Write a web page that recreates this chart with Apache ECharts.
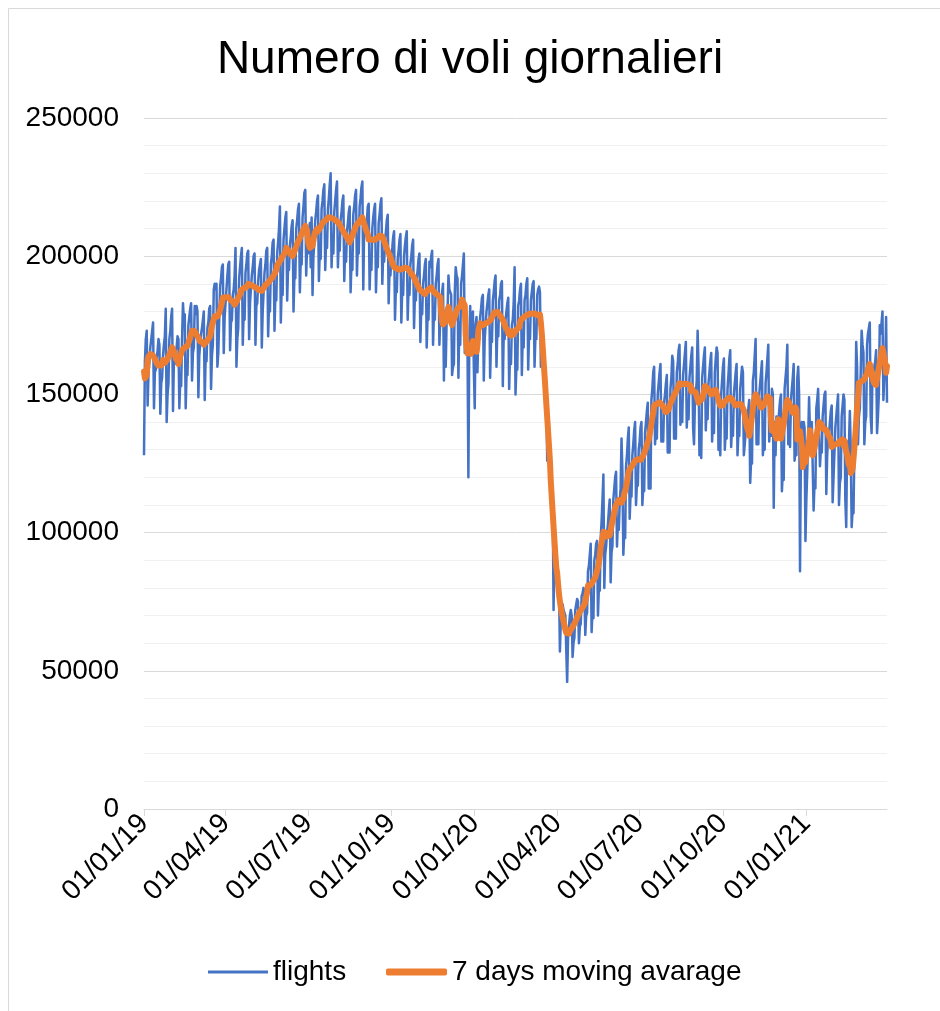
<!DOCTYPE html>
<html>
<head>
<meta charset="utf-8">
<title>Numero di voli giornalieri</title>
<script src="https://cdn.jsdelivr.net/npm/echarts@6.0.0/dist/echarts.min.js"></script>
<style>
  html, body { margin: 0; padding: 0; background: #ffffff; }
  #chart { width: 940px; height: 1011px; }
</style>
</head>
<body>
<div id="chart"></div>
<script>
// voli al giorno in migliaia, una riga per settimana (mar -> lun), dal 01/01/19
const flightsByWeek = [
  [128,162,170,173,146,158,162], [167,170,173,176,145,158,159], [163,166,170,168,143,154,156],
  [164,168,171,181,140,150,154], [170,173,178,181,144,162,161], [166,167,171,170,145,155,153],
  [170,183,177,179,145,158,157], [175,178,181,183,155,165,167], [182,179,182,180,149,164,168],
  [172,174,177,180,148,163,162], [174,176,181,182,152,164,168], [188,190,188,190,160,165,165],
  [189,192,196,197,165,178,178], [188,193,197,198,166,176,177], [186,188,193,203,160,170,174],
  [192,196,200,203,168,180,177], [194,197,201,202,170,183,183], [193,196,200,201,168,182,183],
  [191,195,197,199,167,180,180], [194,197,202,203,171,183,180], [197,200,205,206,173,186,184],
  [201,205,210,218,176,190,186], [206,210,214,216,184,196,195], [204,207,211,213,180,193,192],
  [210,213,217,219,187,199,197], [214,218,223,224,193,204,201], [208,212,196,214,186,200,205],
  [213,216,220,222,191,202,199], [217,220,224,226,195,206,203], [217,221,226,230,196,207,201],
  [216,220,224,227,196,206,202], [213,216,220,222,191,203,198], [209,212,216,218,187,198,195],
  [215,218,222,224,193,204,201], [218,221,225,227,188,211,208], [210,213,218,219,188,199,195],
  [210,214,217,219,187,199,196], [212,215,219,221,190,201,198], [206,209,213,215,183,195,193],
  [200,203,207,209,177,189,187], [199,202,206,208,176,188,186], [200,204,207,209,177,189,186],
  [197,200,204,206,174,186,184], [192,195,199,201,169,181,179], [190,193,197,199,167,179,177],
  [198,196,200,202,168,180,177], [190,193,197,199,168,178,177], [187,190,155,180,160,177,180],
  [193,188,187,186,157,160,161], [187,196,193,192,156,176,168], [190,193,197,201,165,178,171],
  [170,120,168,182,165,178,180], [160,145,175,178,158,172,170], [178,181,185,186,155,170,170],
  [180,183,186,188,156,170,169], [184,187,191,193,160,174,171], [184,186,190,191,153,172,170],
  [177,180,183,185,152,166,161], [175,177,183,196,150,160,159], [182,184,188,190,157,171,167],
  [184,186,190,192,159,172,170], [184,187,190,191,160,171,170], [186,188,189,187,160,170,172],
  [166,160,156,150,126,134,135], [130,124,119,114,72,96,98],    [92,88,84,82,57,68,73],
  [74,72,72,70,58,46,62],        [66,70,72,70,55,60,62],        [72,74,76,75,60,66,67],
  [77,78,80,79,63,70,71],        [86,88,92,96,64,72,69],        [90,92,96,97,70,80,79],
  [98,104,112,121,80,92,95],     [100,103,108,112,82,93,95],    [112,116,120,122,95,104,101],
  [111,116,134,122,92,100,98],   [124,128,134,138,105,114,113], [128,132,137,140,110,118,117],
  [130,133,138,140,110,116,115], [136,140,144,147,116,125,116], [148,152,158,160,132,138,134],
  [150,154,158,161,133,140,133], [147,150,154,157,129,135,129], [152,156,164,162,134,141,134],
  [158,161,166,168,139,146,140], [157,161,165,169,138,147,141], [156,160,164,167,138,132,147],
  [150,155,173,160,128,136,127], [156,160,164,167,137,146,141], [154,158,162,165,133,142,136],
  [158,163,167,165,130,133,128], [150,155,160,163,130,137,134], [152,157,163,166,131,139,135],
  [150,154,158,161,128,136,135], [152,156,160,158,128,132,136], [140,143,145,148,118,126,125],
  [155,158,164,170,132,139,132], [150,154,158,162,128,133,130], [154,158,163,168,133,139,135],
  [152,150,109,140,128,142,135], [140,144,148,150,115,122,119], [152,156,160,168,132,137,131],
  [148,152,156,161,126,130,128], [156,160,150,86,130,140,135],  [140,138,97,112,122,134,149],
  [136,138,140,140,108,118,116], [145,148,152,152,124,130,129], [142,146,150,151,114,128,135],
  [136,140,144,146,111,120,120], [138,142,146,150,110,118,120], [142,146,150,148,112,102,133],
  [128,132,144,130,102,108,107], [130,140,169,160,132,142,145], [158,173,168,165,132,140,142],
  [168,172,174,176,142,136,159], [158,160,162,166,136,142,150], [175,172,176,180,148,156,160],
  [178,147]
];

// etichette dell'asse x (una ogni tre mesi)
const tickLabels = ['01/01/19', '01/04/19', '01/07/19', '01/10/19', '01/01/20',
                    '01/04/20', '01/07/20', '01/10/20', '01/01/21'];

// asse y
const yMin = 0;
const yMax = 250000;
const yStep = 50000;

const flights = flightsByWeek.flat().map(v => v * 1000);

// una categoria per giorno, formato gg/mm/aa
const pad = n => String(n).padStart(2, '0');
const days = flights.map((_, i) => {
  const d = new Date(Date.UTC(2019, 0, 1 + i));
  return pad(d.getUTCDate()) + '/' + pad(d.getUTCMonth() + 1) + '/' + String(d.getUTCFullYear()).slice(2);
});

// media mobile su 7 giorni (centrata, finestra ridotta ai bordi)
const movingAvg = flights.map((_, i) => {
  const win = flights.slice(Math.max(0, i - 3), i + 4);
  return Math.round(win.reduce((a, b) => a + b, 0) / win.length);
});

const font = 'Liberation Sans, Arial, sans-serif';
const showTick = (idx, value) => tickLabels.includes(value);

const chart = echarts.init(document.getElementById('chart'), null, { renderer: 'canvas' });

chart.setOption({
  animation: false,
  backgroundColor: '#ffffff',
  //cornice grigia (solo sopra e a sinistra, il resto e' tagliato)
  graphic: [
    { type: 'line', shape: { x1: 8.5, y1: 8.5, x2: 940, y2: 8.5 }, style: { stroke: '#d9d9d9', lineWidth: 1 } },
    { type: 'line', shape: { x1: 8.5, y1: 8.5, x2: 8.5, y2: 1011 }, style: { stroke: '#d9d9d9', lineWidth: 1 } }
  ],
  title: {
    text: 'Numero di voli giornalieri',
    left: 'center',
    top: 32,
    textStyle: { fontFamily: font, fontSize: 46, fontWeight: 'normal', color: '#000000' }
  },
  legend: [
    {
      data: ['flights'],
      left: 208,
      top: 958,
      padding: 0,
      icon: 'rect',
      itemWidth: 60,
      itemHeight: 3,
      selectedMode: false,
      textStyle: { fontFamily: font, fontSize: 28, color: '#000000' }
    },
    {
      data: ['7 days moving avarage'],
      left: 386,
      top: 958,
      padding: 0,
      icon: 'roundRect',
      itemWidth: 61,
      itemHeight: 7,
      selectedMode: false,
      textStyle: { fontFamily: font, fontSize: 28, color: '#000000' }
    }
  ],
  grid: { left: 144, right: 53, top: 118, bottom: 202, containLabel: false },
  xAxis: {
    type: 'category',
    data: days,
    //niente spazio ai lati
    boundaryGap: false,
    axisLine: { show: true, lineStyle: { color: '#d9d9d9', width: 1 } },
    axisTick: { show: true, interval: showTick, length: 7, lineStyle: { color: '#d9d9d9' } },
    axisLabel: {
      interval: showTick,
      rotate: 45,
      margin: 10,
      fontFamily: font,
      fontSize: 28,
      color: '#000000'
    },
    splitLine: { show: false }
  },
  yAxis: {
    type: 'value',
    min: yMin,
    max: yMax,
    interval: yStep,
    axisLine: { show: false },
    axisTick: { show: false },
    //numeri senza separatore delle migliaia
    axisLabel: { margin: 25, fontFamily: font, fontSize: 28, color: '#000000', formatter: v => String(v) },
    splitLine: { lineStyle: { color: '#d9d9d9', width: 1 } },
    minorTick: { show: false, splitNumber: 5 },
    minorSplitLine: { show: true, lineStyle: { color: '#f0f0f0', width: 1 } }
  },
  series: [
    {
      name: 'flights',
      type: 'line',
      data: flights,
      showSymbol: false,
      symbol: 'none',
      color: '#4472C4',
      lineStyle: { width: 2.5, color: '#4472C4', join: 'round' }
    },
    {
      name: '7 days moving avarage',
      type: 'line',
      data: movingAvg,
      showSymbol: false,
      symbol: 'none',
      color: '#ED7D31',
      lineStyle: { width: 6, color: '#ED7D31', cap: 'round', join: 'round' }
    }
  ]
});
</script>
</body>
</html>
